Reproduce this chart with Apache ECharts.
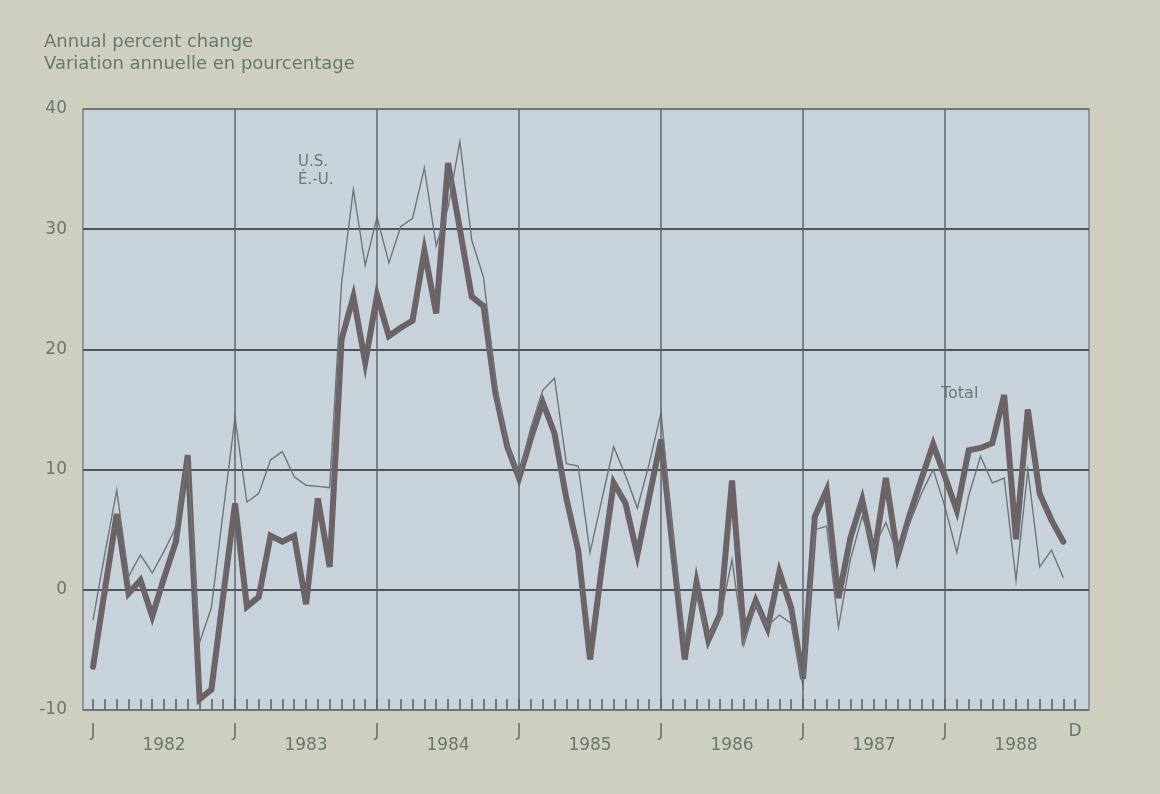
<!DOCTYPE html>
<html>
<head>
<meta charset="utf-8">
<script src="https://cdn.jsdelivr.net/npm/echarts@6/dist/echarts.min.js"></script>
<style>
html,body{margin:0;padding:0;background:#cecfbf;}
#chart{width:1160px;height:794px;}
</style>
</head>
<body>
<div id="chart"></div>
<script>
// ---- Data (monthly, Jan 1982 .. Nov 1988) ----
const firstYear = 1982;
const yearLabels = ['1982', '1983', '1984', '1985', '1986', '1987', '1988'];
const monthCount = 84; // Jan 1982 .. Dec 1988 on the axis
const startLetter = 'J';
const endLetter = 'D';
const yTickValues = [-10, 0, 10, 20, 30, 40];

// Total (thick line)
const totalValues = [
  -6.4, 0.0, 6.3, -0.3, 0.8, -2.2, 1.0, 4.0, 11.2, -9.1, -8.3, -0.5,
  7.2, -1.4, -0.6, 4.5, 4.0, 4.5, -1.2, 7.6, 1.9, 20.8, 24.4, 18.9,
  24.5, 21.1, 21.8, 22.4, 28.2, 23.0, 35.5, 30.0, 24.4, 23.6, 16.4, 11.9,
  9.3, 12.6, 15.6, 13.0, 7.6, 3.3, -5.8, 1.9, 8.9, 7.2, 2.9, 7.7,
  12.5, 3.3, -5.8, 0.6, -4.2, -2.0, 9.1, -3.6, -0.9, -3.2, 1.5, -1.5,
  -7.4, 6.1, 8.3, -0.7, 4.3, 7.5, 2.8, 9.3, 2.8, 6.2, 9.2, 12.1,
  9.4, 6.6, 11.6, 11.8, 12.2, 16.2, 4.2, 15.0, 8.0, 5.8, 4.0
];

// U.S. (thin line)
const usValues = [
  -2.5, 3.0, 8.3, 1.1, 2.9, 1.4, 3.2, 5.2, 10.8, -4.4, -1.5, 6.5,
  14.3, 7.3, 8.0, 10.8, 11.5, 9.4, 8.7, 8.6, 8.5, 25.5, 33.3, 27.0,
  31.0, 27.2, 30.2, 30.9, 35.1, 28.6, 31.8, 37.3, 29.1, 26.0, 17.5, 12.0,
  9.5, 13.5, 16.6, 17.6, 10.5, 10.3, 3.1, 7.5, 11.9, 9.5, 6.8, 10.5,
  14.7, 4.5, -4.2, -0.5, -3.9, -2.3, 2.5, -4.6, -1.2, -3.0, -2.1, -2.8,
  -8.0, 5.0, 5.3, -3.1, 2.5, 6.1, 3.5, 5.6, 3.0, 5.5, 8.0, 10.0,
  6.9, 3.1, 7.8, 11.1, 8.9, 9.3, 0.8, 10.0, 1.9, 3.3, 1.0
];

// ---- derived axis helpers ----
const monthTicks = [];
for (let m = 0; m < monthCount; m++) monthTicks.push(m);
const yearStarts = yearLabels.map((_, k) => k * 12);           // J positions
const letterPositions = yearStarts.concat([monthCount - 1]);     // J ... J, D
const yearMid = yearLabels.map((_, k) => k * 12 + 6);           // year label position
const innerYearStarts = yearStarts.slice(1);                     // vertical lines

const totalData = totalValues.map((v, i) => [i, v]);
const usData = usValues.map((v, i) => [i, v]);

const textColor = '#657970';
const fontFam = '"DejaVu Sans", "Liberation Sans", sans-serif';
const xMin = -0.85, xMax = 84.17;

const chart = echarts.init(document.getElementById('chart'), null, {renderer: 'canvas'});
chart.setOption({
  animation: false,
  backgroundColor: '#cecfbf',
  grid: {
    left: 83, right: 71, top: 109, bottom: 84,
    show: true,
    backgroundColor: '#c7d2db',
    borderColor: '#7b8185',
    borderWidth: 1.5
  },
  xAxis: [
    {
      type: 'value', min: xMin, max: xMax, position: 'bottom',
      axisLine: {show: false, onZero: false},
      splitLine: {show: false},
      axisTick: {
        show: true, inside: true, length: 11,
        customValues: monthTicks,
        lineStyle: {color: '#5e6466', width: 1.6}
      },
      axisLabel: {
        customValues: letterPositions,
        formatter: v => (v === monthCount - 1 ? endLetter : startLetter),
        margin: 13,
        color: textColor, fontSize: 17, fontFamily: fontFam
      }
    },
    {
      type: 'value', min: xMin, max: xMax, position: 'bottom',
      axisLine: {show: false, onZero: false}, axisTick: {show: false}, splitLine: {show: false},
      axisLabel: {
        customValues: yearMid,
        formatter: v => yearLabels[Math.round((v - 6) / 12)],
        margin: 27,
        color: textColor, fontSize: 17, fontFamily: fontFam
      }
    }
  ],
  yAxis: {
    type: 'value', min: -10, max: 40, interval: 10,
    axisLine: {show: false}, axisTick: {show: false},
    splitLine: {
      show: true,
      lineStyle: {color: ['#6f7579', '#4f5457', '#4f5457', '#4f5457', '#4f5457', '#6f7579'], width: 2}
    },
    axisLabel: {color: textColor, fontSize: 17, fontFamily: fontFam, margin: 16}
  },
  graphic: [
    {type: 'text', left: 44, top: 33, style: {text: 'Annual percent change', fill: textColor, font: '18px "DejaVu Sans"'}},
    {type: 'text', left: 44, top: 55, style: {text: 'Variation annuelle en pourcentage', fill: textColor, font: '18px "DejaVu Sans"'}},
    {type: 'text', left: 298, top: 153, style: {text: 'U.S.\nÉ.-U.', fill: '#6c7876', font: '15px "DejaVu Sans"', lineHeight: 18}},
    {type: 'text', left: 941, top: 386, style: {text: 'Total', fill: '#6c7876', font: '16px "DejaVu Sans"'}}
  ],
  series: [
    {
      name: 'years', type: 'line', xAxisIndex: 0, data: totalData, z: 1,
      showSymbol: false, symbol: 'none', silent: true,
      lineStyle: {opacity: 0},
      markLine: {
        silent: true, symbol: ['none', 'none'], label: {show: false},
        lineStyle: {color: '#60666a', width: 1.5, type: 'solid'},
        data: innerYearStarts.map(v => ({xAxis: v}))
      }
    },
    {
      name: 'Total', type: 'line', xAxisIndex: 0, data: totalData, z: 3,
      showSymbol: false, symbol: 'none',
      lineStyle: {color: '#6b6366', width: 6, join: 'miter', miterLimit: 6, cap: 'round'}
    },
    {
      name: 'U.S.', type: 'line', xAxisIndex: 0, data: usData, z: 4,
      showSymbol: false, symbol: 'none',
      lineStyle: {color: '#6e7577', width: 1.4, join: 'miter'}
    }
  ]
});
</script>
</body>
</html>
